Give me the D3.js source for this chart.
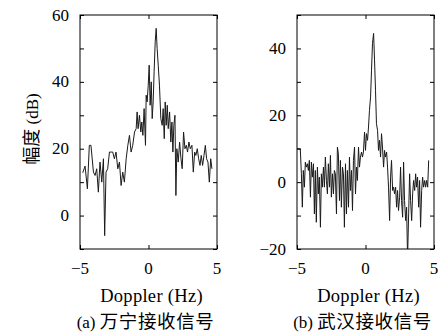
<!DOCTYPE html>
<html>
<head>
<meta charset="utf-8">
<script src="https://cdn.jsdelivr.net/npm/d3@7"></script>
<style>
  body { margin: 0; background: #fff; }
  svg text { font-family: "Liberation Serif", "DejaVu Serif", serif; fill: #000; }
  .cjk { font-family: "Noto Sans CJK SC", sans-serif; }
</style>
</head>
<body>
<div id="chart"></div>
<script>
// (a) Wanning received signal
const dopplerA = [-4.80,-4.63,-4.46,-4.32,-4.20,-4.02,-3.90,-3.78,-3.66,-3.54,-3.41,-3.29,-3.20,-3.10,-2.98,-2.85,-2.73,-2.61,-2.49,-2.37,-2.24,-2.12,-2.00,-1.88,-1.76,-1.63,-1.51,-1.39,-1.27,-1.15,-1.02,-0.90,-0.83,-0.76,-0.66,-0.56,-0.49,-0.41,-0.32,-0.22,-0.17,-0.10,-0.02,0.05,0.12,0.20,0.27,0.34,0.41,0.49,0.56,0.63,0.71,0.80,0.90,1.00,1.07,1.15,1.22,1.29,1.37,1.44,1.54,1.63,1.71,1.78,1.85,1.93,2.00,2.07,2.17,2.27,2.37,2.46,2.56,2.66,2.76,2.85,2.95,3.05,3.17,3.27,3.37,3.46,3.56,3.66,3.76,3.85,3.95,4.05,4.15,4.24,4.34,4.44,4.54,4.63];
const ampA = [12.8,14.8,8,21,21,13,12,14,7,16,10,17,-6,13,14,19,19,19,17,19,14,16,9,13,10,17,21,24,19,21,25,26,31,26,30,25,28,24,32,21,36,34,39,45,33,40,29,34,43,52,56,50,45,39,29,27,32,23,34,27,33,26,31,22,28,19,27,30,6,20,16,22,17,14,25,20,21,19,22,20,21,13,19,18,20,17,15,18,15,18,21,17,16,10,17,14];

// (b) Wuhan received signal
const dopplerB = [-5.00,-4.76,-4.68,-4.61,-4.54,-4.46,-4.39,-4.32,-4.24,-4.17,-4.10,-4.02,-3.95,-3.88,-3.80,-3.73,-3.66,-3.59,-3.51,-3.44,-3.37,-3.29,-3.22,-3.15,-3.07,-3.00,-2.93,-2.85,-2.78,-2.71,-2.63,-2.56,-2.49,-2.41,-2.34,-2.27,-2.20,-2.12,-2.05,-1.98,-1.90,-1.83,-1.76,-1.68,-1.61,-1.54,-1.46,-1.39,-1.32,-1.24,-1.17,-1.10,-1.02,-0.95,-0.88,-0.80,-0.73,-0.66,-0.59,-0.51,-0.44,-0.37,-0.29,-0.22,-0.15,-0.07,0.00,0.07,0.15,0.22,0.29,0.37,0.44,0.51,0.59,0.66,0.73,0.80,0.88,0.95,1.02,1.10,1.17,1.24,1.32,1.39,1.46,1.54,1.61,1.68,1.76,1.83,1.90,1.98,2.05,2.12,2.20,2.27,2.34,2.41,2.49,2.56,2.63,2.71,2.78,2.85,2.93,3.00,3.07,3.15,3.22,3.29,3.37,3.44,3.51,3.59,3.66,3.73,3.80,3.88,3.95,4.02,4.10,4.17,4.24,4.32,4.39,4.46,4.54,4.61];
const ampB = [10,10,2.5,-7.5,3.5,-1.5,6,4.5,5.5,3.5,6.5,-4.5,6,1.5,5.5,-9.5,3.5,-12,4.5,-3.5,1.5,-13.5,2.5,-1.5,4.5,-1.5,7.5,0.5,-3.5,5.5,-1.5,8,-4.5,2.5,-3.5,3.5,2.5,-9.5,10.5,8.5,-5.5,6.5,-7.5,4.5,2.5,-13.5,5.5,-9.5,3.5,-7.5,7.5,-2.5,3.5,-8.5,6.5,10.5,-3.5,4.5,0.5,10.5,4.5,7.5,9,7.5,9,15,9.5,14.5,12.5,16.5,21.5,25.5,33.5,41.5,44.5,36.5,27.5,17.5,15.5,9.5,12.5,7.5,14.5,10.5,4.5,9.5,7.5,9,4.5,-1.5,-11.5,1.5,6.5,-2.5,-1.5,-3.5,-1.5,-7.5,-2.5,-8.5,-4.5,4.5,-5.5,-10.5,6,-5.5,-11.5,-7.5,-23,-9.5,2.5,-5.5,-11.5,-3.5,0.5,-2.5,2.5,-1.5,1.5,-7.5,0.5,-13.5,-2.5,1.5,-1.5,0.5,-1.5,0.5,-1.5,6.5];

const xTicks = [-5, 0, 5];
const yTicksA = [-10, 0, 10, 20, 30, 40, 50, 60];
const yTicksB = [-20, -10, 0, 10, 20, 30, 40, 50];
const yLabelsA = [0, 20, 40, 60];
const yLabelsB = [-20, 0, 20, 40];

const svg = d3.select('#chart').append('svg')
  .attr('width', 441)
  .attr('height', 336);

const fmt = d => d < 0 ? '\u2212' + Math.abs(d) : String(d);

function panel(id, left, xs, ys, yDomain, yTicks, yLabels, caption) {
  const w = 137, h = 234, top = 15;
  const x = d3.scaleLinear().domain([-5, 5]).range([0, w]);
  const y = d3.scaleLinear().domain(yDomain).range([h, 0]);
  const g = svg.append('g').attr('transform', `translate(${left}, ${top})`);

  g.append('clipPath').attr('id', id)
    .append('rect').attr('width', w).attr('height', h);

  const line = d3.line().x((d, i) => x(xs[i])).y(d => y(d));
  g.append('path')
    .datum(ys)
    .attr('clip-path', `url(#${id})`)
    .attr('fill', 'none')
    .attr('stroke', '#1a1a1a')
    .attr('stroke-width', 1)
    .attr('d', line);

  // inward ticks on all four sides, matlab style
  g.append('g').call(d3.axisLeft(y).tickValues(yTicks).tickSize(-4).tickFormat(''))
    .call(a => a.select('.domain').remove());
  g.append('g').attr('transform', `translate(${w},0)`)
    .call(d3.axisRight(y).tickValues(yTicks).tickSize(-4).tickFormat(''))
    .call(a => a.select('.domain').remove());
  g.append('g').attr('transform', `translate(0,${h})`)
    .call(d3.axisBottom(x).tickValues(xTicks).tickSize(-4).tickFormat(''))
    .call(a => a.select('.domain').remove());
  g.append('g')
    .call(d3.axisTop(x).tickValues(xTicks).tickSize(-4).tickFormat(''))
    .call(a => a.select('.domain').remove());

  g.append('rect')
    .attr('width', w).attr('height', h)
    .attr('fill', 'none').attr('stroke', '#000').attr('stroke-width', 1);

  g.selectAll('.ylab').data(yLabels).enter().append('text')
    .attr('x', -11)
    .attr('y', d => y(d))
    .attr('dy', '0.33em')
    .attr('text-anchor', 'end')
    .style('font-size', '17px')
    .text(fmt);

  g.selectAll('.xlab').data(xTicks).enter().append('text')
    .attr('x', d => x(d))
    .attr('y', h + 25)
    .attr('text-anchor', 'middle')
    .style('font-size', '17px')
    .text(fmt);

  g.append('text')
    .attr('x', w / 2 + 3)
    .attr('y', h + 53)
    .attr('text-anchor', 'middle')
    .style('font-size', '18.5px')
    .style('letter-spacing', '0.3px')
    .text('Doppler (Hz)');

  const cap = g.append('text')
    .attr('x', w / 2 - 3)
    .attr('y', h + 79)
    .attr('text-anchor', 'middle')
    .style('font-size', '17px');
  cap.append('tspan').text(caption[0] + ' ');
  cap.append('tspan').attr('class', 'cjk')
    .style('font-size', '18.5px')
    .style('letter-spacing', '0.6px')
    .text(caption[1]);
  return g;
}

panel('clipA', 80, dopplerA, ampA, [-10, 60], yTicksA, yLabelsA, ['(a)', '万宁接收信号']);
panel('clipB', 297, dopplerB, ampB, [-20, 50], yTicksB, yLabelsB, ['(b)', '武汉接收信号']);

// y axis title
const yt = svg.append('text')
  .attr('transform', 'translate(38, 129) rotate(-90)')
  .attr('text-anchor', 'middle')
  .style('font-size', '17px');
yt.append('tspan').attr('class', 'cjk').style('font-size', '18px').text('幅度');
yt.append('tspan').text(' (dB)');
</script>
</body>
</html>
